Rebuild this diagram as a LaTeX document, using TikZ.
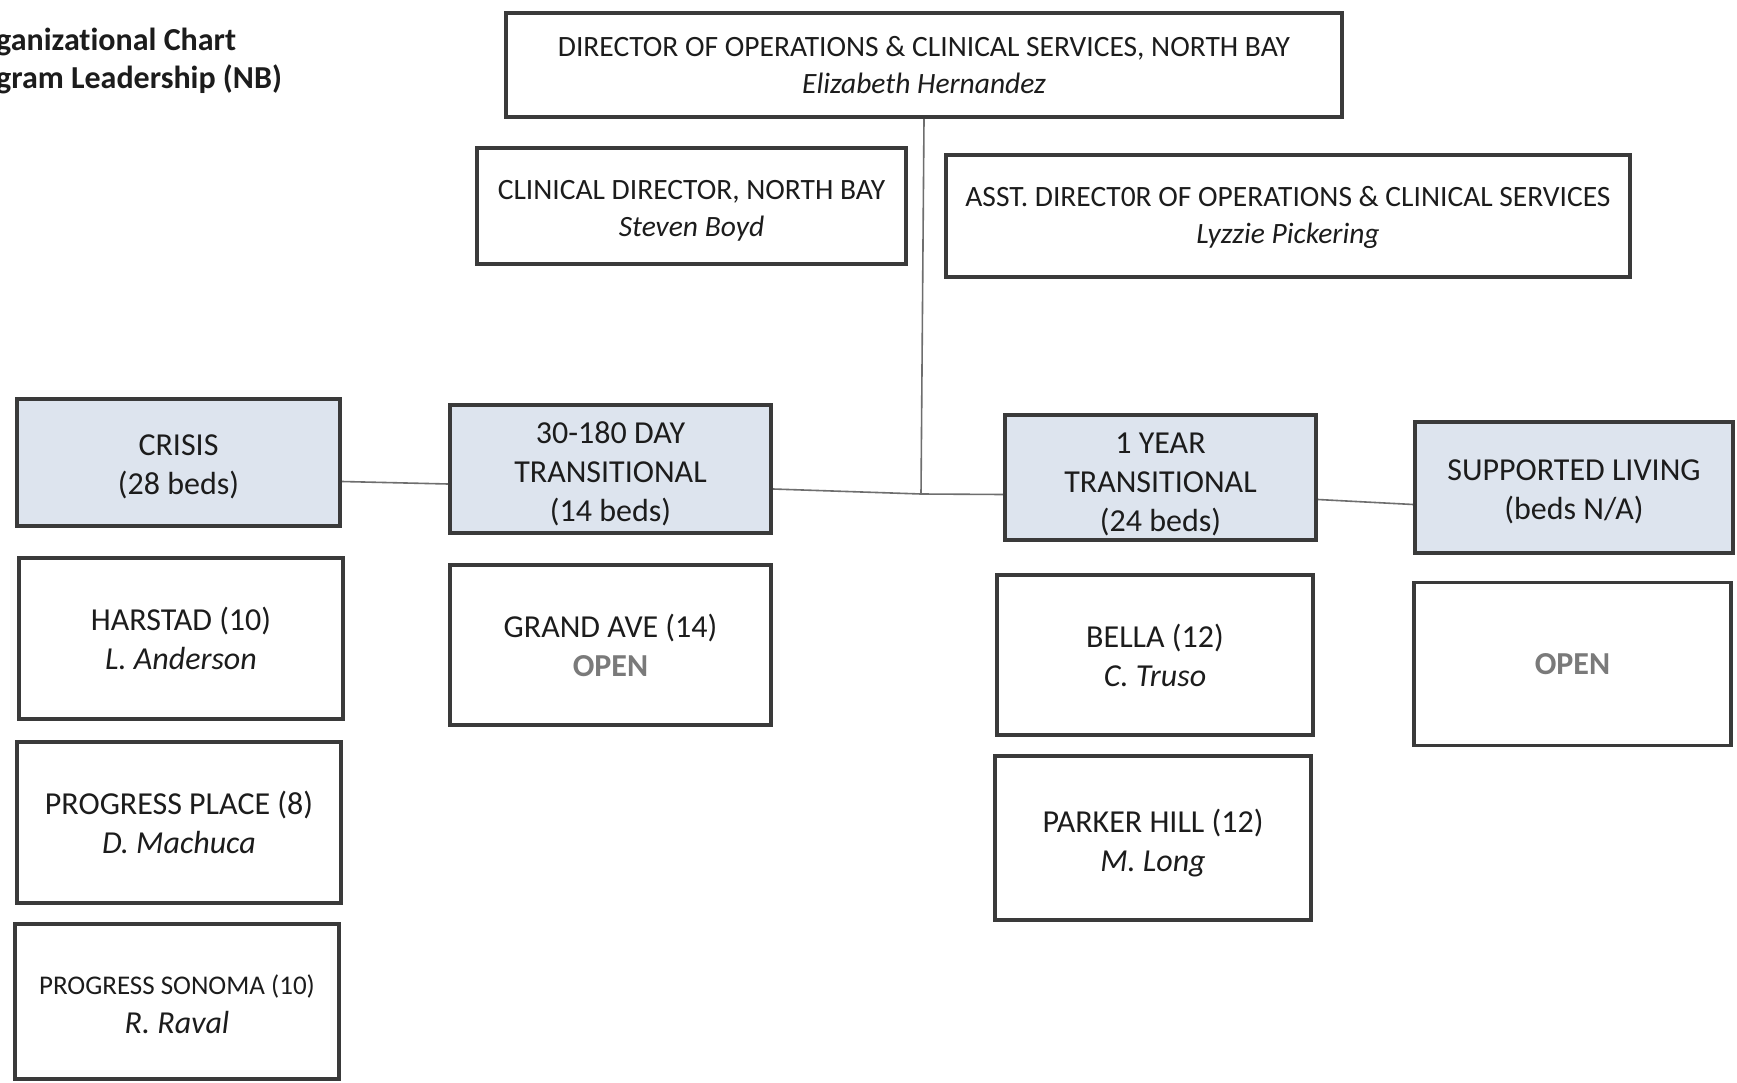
\documentclass[tikz,border=0pt]{standalone}
\usepackage{fontspec}
\setmainfont{Carlito}[Ligatures=NoCommon]
\usetikzlibrary{backgrounds}
\definecolor{boxline}{HTML}{3A3A3A}
\definecolor{catfill}{HTML}{DDE4EE}
\definecolor{conncol}{HTML}{6E6E6E}
\definecolor{opencol}{HTML}{7A7A7A}
\definecolor{txt}{HTML}{1C1C1C}
\newcommand\mylift[1]{\rule{0pt}{#1pt}}
\begin{document}
\begin{tikzpicture}[x=1pt,y=-1pt,
  box/.style={draw=boxline, line width=3.8pt, fill=white, align=center, text=txt,
              font=\fontsize{32}{39}\selectfont, inner sep=0pt},
  topbox/.style={box, font=\fontsize{29.5}{37}\selectfont},
  cat/.style={box, fill=catfill},
  conn/.style={draw=conncol, line width=1.6pt}
]
\useasboundingbox (0,0) rectangle (1737,1083);

\node[anchor=north west, align=left, inner sep=0pt, text=txt,
      font=\bfseries\fontsize{32}{38}\selectfont] (title) at (-4,28)
      {ganizational Chart\\gram Leadership (NB)};

\node[topbox, minimum width=836pt, minimum height=104pt] (dir) at (924,65)
  {DIRECTOR OF OPERATIONS \& CLINICAL SERVICES, NORTH BAY\\\textit{Elizabeth Hernandez}};
\node[topbox, minimum width=429pt, minimum height=116pt] (clin) at (691.5,206)
  {\mylift{28}CLINICAL DIRECTOR, NORTH BAY\\\textit{Steven Boyd}};
\node[topbox, minimum width=684pt, minimum height=122pt] (asst) at (1288,216)
  {\mylift{23}ASST. DIRECT0R OF OPERATIONS \& CLINICAL SERVICES\\\textit{Lyzzie Pickering}};

\node[cat, minimum width=323pt, minimum height=127pt] (crisis) at (178.5,462.5)
  {\mylift{30}CRISIS\\(28 beds)};
\node[cat, minimum width=321pt, minimum height=128pt] (t30) at (610.5,469)
  {\mylift{32}30-180 DAY\\TRANSITIONAL\\(14 beds)};
\node[cat, minimum width=311pt, minimum height=125pt] (yr1) at (1160.5,477.5)
  {\mylift{35}1 YEAR\\TRANSITIONAL\\(24 beds)};
\node[cat, minimum width=318pt, minimum height=131pt] (sl) at (1574,487.5)
  {\mylift{30}SUPPORTED LIVING\\(beds N/A)};

\node[box, minimum width=324pt, minimum height=161pt] (harstad) at (181,638.5)
  {HARSTAD (10)\\\textit{L. Anderson}};
\node[box, minimum width=324pt, minimum height=161pt] (pplace) at (179,822.5)
  {PROGRESS PLACE (8)\\\textit{D. Machuca}};
\node[box, minimum width=324pt, minimum height=155pt] (sonoma) at (177,1001.5)
  {{\fontsize{27}{37}\selectfont\mylift{26}PROGRESS SONOMA (10)}\\\textit{R. Raval}};

\node[box, minimum width=321pt, minimum height=160pt] (grand) at (610.5,645)
  {GRAND AVE (14)\\\textcolor{opencol}{\bfseries OPEN}};

\node[box, minimum width=316pt, minimum height=160pt] (bella) at (1155,655)
  {BELLA (12)\\\textit{C. Truso}};
\node[box, minimum width=316pt, minimum height=164pt] (parker) at (1153,838)
  {\mylift{33}PARKER HILL (12)\\\textit{M. Long}};

\node[box, minimum width=317pt, minimum height=163pt] (slopen) at (1572.5,664)
  {\textcolor{opencol}{\bfseries OPEN}};

\coordinate (j) at (921,494);

\begin{scope}[on background layer]
  \fill[white] (0,0) rectangle (1737,1083);
  \draw[conn] (dir.south) -- (j);
  \draw[conn] ([yshift=-19pt]crisis.east) -- ([yshift=-15pt]t30.west);
  \draw[conn] ([yshift=-20pt]t30.east) -- (j) -- ([yshift=-17pt]yr1.west);
  \draw[conn] ([yshift=-22pt]yr1.east) -- ([yshift=-17pt]sl.west);
\end{scope}
\end{tikzpicture}
\end{document}
